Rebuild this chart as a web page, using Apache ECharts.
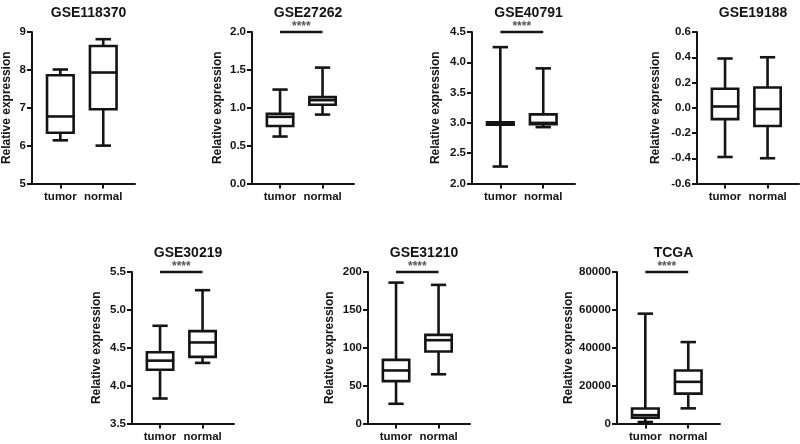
<!DOCTYPE html>
<html><head><meta charset="utf-8">
<script src="https://cdn.jsdelivr.net/npm/echarts@6/dist/echarts.min.js"></script>
<style>html,body{margin:0;padding:0;background:#fff}#c{width:800px;height:444px}</style>
</head><body><div id="c"></div>
<script>
// ---- data ----
const categories = ['tumor', 'normal'];
const titles = ['GSE118370', 'GSE27262', 'GSE40791', 'GSE19188', 'GSE30219', 'GSE31210', 'TCGA'];
// each group: [min, Q1, median, Q3, max]  (tumor, normal)
const gse118370 = [[6.14, 6.34, 6.77, 7.86, 8.01], [6.00, 6.96, 7.93, 8.63, 8.81]];
const gse27262  = [[0.62, 0.76, 0.88, 0.92, 1.24], [0.91, 1.04, 1.10, 1.14, 1.53]];
const gse40791  = [[2.28, 2.97, 2.99, 3.01, 4.25], [2.93, 2.98, 3.00, 3.14, 3.90]];
const gse19188  = [[-0.39, -0.09, 0.01, 0.15, 0.39], [-0.40, -0.145, -0.01, 0.16, 0.40]];
const gse30219  = [[3.83, 4.21, 4.33, 4.44, 4.79], [4.30, 4.38, 4.57, 4.72, 5.26]];
const gse31210  = [[26, 56, 70, 84, 186], [65, 95, 110, 117, 183]];
const tcga      = [[800, 3000, 4400, 7900, 58000], [8000, 15800, 22000, 28000, 43000]];
const yMin = [5, 0, 2, -0.6, 3.5, 0, 0];
const yMax = [9, 2, 4.5, 0.6, 5.5, 200, 80000];
const yStep = [1, 0.5, 0.5, 0.2, 0.5, 50, 20000];
const yDecimals = [0, 1, 1, 1, 1, 0, 0];
const significance = ['', '****', '****', '', '****', '****', '****'];
const yName = 'Relative expression';

const panels = [gse118370, gse27262, gse40791, gse19188, gse30219, gse31210, tcga];

// ---- layout ----
const gridLeft = [32, 252, 472, 697, 132, 368, 617];
const gridTop = [32, 32, 32, 32, 272, 272, 272];
const gridWidth = [103, 102, 103, 102, 102, 102, 103];
const gridHeight = 151.5;
const nameGaps = [19, 28, 30, 35, 29, 32, 42];
const titleTop = [1, 1, 1, 1, 241, 241, 241];

const INK = '#141414';
const FONT = 'Liberation Sans, Arial, sans-serif';
const LW = 2.6;

function renderBox(params, api) {
  const x = api.value(0);
  const c = v => api.coord([x, v]);
  const pMin = c(api.value(1)), pQ1 = c(api.value(2)), pMd = c(api.value(3)),
        pQ3 = c(api.value(4)), pMax = c(api.value(5));
  const halfBox = api.size([0.62, 0])[0] / 2;
  const halfCap = api.size([0.36, 0])[0] / 2;
  const cx = pMd[0];
  const st = { stroke: INK, lineWidth: LW, fill: null };
  return {
    type: 'group',
    children: [
      { type: 'line', shape: { x1: cx, y1: pMax[1], x2: cx, y2: pQ3[1] }, style: st },
      { type: 'line', shape: { x1: cx, y1: pQ1[1], x2: cx, y2: pMin[1] }, style: st },
      { type: 'line', shape: { x1: cx - halfCap, y1: pMax[1], x2: cx + halfCap, y2: pMax[1] }, style: st },
      { type: 'line', shape: { x1: cx - halfCap, y1: pMin[1], x2: cx + halfCap, y2: pMin[1] }, style: st },
      { type: 'rect', shape: { x: cx - halfBox, y: pQ3[1], width: 2 * halfBox, height: pQ1[1] - pQ3[1] },
        style: { stroke: INK, lineWidth: LW, fill: '#fff' } },
      { type: 'line', shape: { x1: cx - halfBox - 1, y1: pMd[1], x2: cx + halfBox + 1, y2: pMd[1] }, style: st }
    ]
  };
}

function renderSig(params, api) {
  const p0 = api.coord([api.value(0), api.value(2)]);
  const p1 = api.coord([api.value(1), api.value(2)]);
  return {
    type: 'group',
    children: [
      { type: 'line', shape: { x1: p0[0], y1: p0[1], x2: p1[0], y2: p1[1] },
        style: { stroke: INK, lineWidth: LW } },
      { type: 'text', style: { text: params.context.sigText || '', x: (p0[0] + p1[0]) / 2, y: p0[1] - 5,
        textAlign: 'center', textVerticalAlign: 'middle', align: 'center', verticalAlign: 'middle',
        font: 'bold 12px ' + FONT, fill: '#555' } }
    ]
  };
}

const grid = [], xAxis = [], yAxis = [], series = [], title = [];
panels.forEach((groups, i) => {
  grid.push({ left: gridLeft[i], top: gridTop[i], width: gridWidth[i], height: gridHeight, containLabel: false });
  title.push({
    text: titles[i], left: gridLeft[i] + gridWidth[i] / 2, top: titleTop[i], textAlign: 'center',
    textStyle: { fontFamily: FONT, fontWeight: 'bold', fontSize: 14, color: INK }
  });
  xAxis.push({
    type: 'value', gridIndex: i, min: -0.66, max: 1.74, position: 'bottom',
    splitLine: { show: false },
    axisLine: { show: true, onZero: false, lineStyle: { color: INK, width: 2 } },
    axisTick: { show: true, length: 5, lineStyle: { color: INK, width: 2 }, customValues: [0, 1] },
    axisLabel: { customValues: [0, 1], formatter: v => categories[Math.round(v)], margin: 7,
      fontFamily: FONT, fontWeight: 'bold', fontSize: 11.5, color: INK }
  });
  const dec = yDecimals[i];
  yAxis.push({
    type: 'value', gridIndex: i, min: yMin[i], max: yMax[i], interval: yStep[i], position: 'left',
    name: yName, nameLocation: 'middle', nameGap: nameGaps[i], nameRotate: 90,
    nameTextStyle: { fontFamily: FONT, fontWeight: 'bold', fontSize: 12, color: INK },
    splitLine: { show: false },
    axisLine: { show: true, onZero: false, lineStyle: { color: INK, width: 2 } },
    axisTick: { show: true, length: 5, lineStyle: { color: INK, width: 2 } },
    axisLabel: { margin: 6, formatter: v => (Math.abs(v) < 1e-9 ? 0 : v).toFixed(dec),
      fontFamily: FONT, fontWeight: 'bold', fontSize: 11.5, color: INK }
  });
  series.push({
    type: 'custom', xAxisIndex: i, yAxisIndex: i, renderItem: renderBox,
    encode: { x: 0, y: [1, 2, 3, 4, 5] },
    data: groups.map((g, k) => [k].concat(g)), silent: true
  });
  if (significance[i]) {
    const txt = significance[i];
    series.push({
      type: 'custom', xAxisIndex: i, yAxisIndex: i,
      renderItem: (params, api) => { params.context.sigText = txt; return renderSig(params, api); },
      encode: { x: [0, 1], y: 2 },
      data: [[0, 1, yMax[i]]], silent: true
    });
  }
});

const chart = echarts.init(document.getElementById('c'), null, { renderer: 'canvas' });
chart.setOption({ animation: false, backgroundColor: '#fff', title, grid, xAxis, yAxis, series });
</script>
</body></html>
